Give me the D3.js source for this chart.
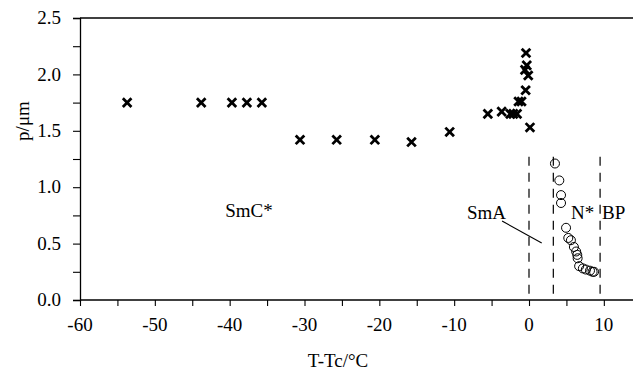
<!DOCTYPE html>
<html><head><meta charset="utf-8">
<script src="https://cdn.jsdelivr.net/npm/d3@7"></script>
<style>body{margin:0;background:#fff}svg{display:block}</style>
</head><body><svg id="c" width="633" height="372" font-family="'Liberation Serif', 'Times New Roman', Times, serif"></svg>
<script>
const crossT = [-53.7,-43.8,-39.7,-37.7,-35.7,-30.6,-25.7,-20.6,-15.7,-10.6,-5.5,-3.65,-2.5,-2.1,-1.6,-1.4,-1.0,-0.45,-0.53,-0.3,-0.4,-0.1,0.13];
const crossP = [1.75,1.75,1.75,1.75,1.75,1.42,1.42,1.42,1.40,1.49,1.65,1.67,1.65,1.65,1.65,1.76,1.76,1.86,2.04,2.08,2.19,1.99,1.53];
const circT = [3.47,4.05,4.28,4.28,4.95,5.25,5.6,6.0,6.3,6.45,6.5,6.7,7.2,7.6,8.15,8.5,8.7];
const circP = [1.21,1.06,0.93,0.86,0.64,0.55,0.53,0.47,0.43,0.40,0.37,0.30,0.28,0.27,0.26,0.25,0.25];
const phaseBounds = [0, 3.25, 9.5];
const xTicks = [-60,-55,-50,-45,-40,-35,-30,-25,-20,-15,-10,-5,0,5,10];
const xLabels = [-60,-50,-40,-30,-20,-10,0,10];
const yTicks = [0,0.25,0.5,0.75,1.0,1.25,1.5,1.75,2.0,2.25,2.5];
const yLabels = [0,0.5,1.0,1.5,2.0,2.5];
const phaseLabels = [
  {t:"SmC*", x:-40.6, y:0.74},
  {t:"SmA", x:-8.3, y:0.72},
  {t:"N*", x:5.6, y:0.72},
  {t:"BP", x:9.75, y:0.72}
];

const svg = d3.select("#c");
const x = d3.scaleLinear().domain([-60,0]).range([80,529]);
const y = d3.scaleLinear().domain([0,2.5]).range([300,18]);
const fs = 19;
const ff = "'Liberation Serif', 'Times New Roman', Times, serif";

svg.append("line").attr("x1",80).attr("x2",633).attr("y1",y(2.5)).attr("y2",y(2.5)).attr("stroke","#000").attr("stroke-width",1.3);

const xa = svg.append("g").attr("transform",`translate(0,${y(0)})`)
  .call(d3.axisBottom(x).tickValues(xTicks).tickSize(6).tickFormat(""));
xa.select(".domain").attr("d",`M80,0H633`).attr("stroke-width",1.3);
xa.selectAll(".tick line").attr("stroke-width",1.1);
svg.append("g").selectAll("text").data(xLabels).join("text")
  .attr("x",d=>x(d)).attr("y",331).attr("text-anchor","middle").attr("font-family",ff).attr("font-size",fs).attr("fill","#000").text(d=>d);

const ya = svg.append("g").attr("transform",`translate(80,0)`)
  .call(d3.axisLeft(y).tickValues(yTicks).tickSize(7).tickFormat(""));
ya.select(".domain").attr("stroke-width",1.3);
ya.selectAll(".tick line").attr("stroke-width",1.1);
svg.append("g").selectAll("text").data(yLabels).join("text")
  .attr("x",61).attr("y",d=>y(d)).attr("dy","0.33em").attr("text-anchor","end").attr("font-family",ff).attr("font-size",fs).attr("fill","#000").text(d=>d3.format(".1f")(d));

svg.append("text").attr("x",338).attr("y",367).attr("text-anchor","middle").attr("font-family",ff).attr("font-size",fs).attr("fill","#000").text("T-Tc/°C");
svg.append("text").attr("transform",`translate(29,121) rotate(-90)`).attr("text-anchor","middle").attr("font-family",ff).attr("font-size",fs).attr("fill","#000").text("p/μm");

svg.append("g").selectAll("line").data(phaseBounds).join("line")
  .attr("x1",d=>x(d)).attr("x2",d=>x(d)).attr("y1",y(1.27)).attr("y2",y(0))
  .attr("stroke","#000").attr("stroke-width",1.2).attr("stroke-dasharray","9,7");

svg.append("line").attr("x1",x(-3.6)).attr("y1",y(0.70)).attr("x2",x(1.7)).attr("y2",y(0.505))
  .attr("stroke","#000").attr("stroke-width",1.1);

svg.append("g").selectAll("text").data(phaseLabels).join("text")
  .attr("x",d=>x(d.x)).attr("y",d=>y(d.y)).attr("font-family",ff).attr("font-size",fs).attr("fill","#000").text(d=>d.t);

const cs = 4.3;
const cg = svg.append("g");
crossT.forEach((t,i)=>{
  const cx = x(t), cy = y(crossP[i]);
  cg.append("path").attr("d",`M${cx-cs},${cy-cs}L${cx+cs},${cy+cs}M${cx-cs},${cy+cs}L${cx+cs},${cy-cs}`)
    .attr("stroke","#000").attr("stroke-width",2.8);
});

svg.append("g").selectAll("circle").data(circT).join("circle")
  .attr("cx",d=>x(d)).attr("cy",(d,i)=>y(circP[i])).attr("r",4.5)
  .attr("fill","none").attr("stroke","#000").attr("stroke-width",1);
</script></body></html>
